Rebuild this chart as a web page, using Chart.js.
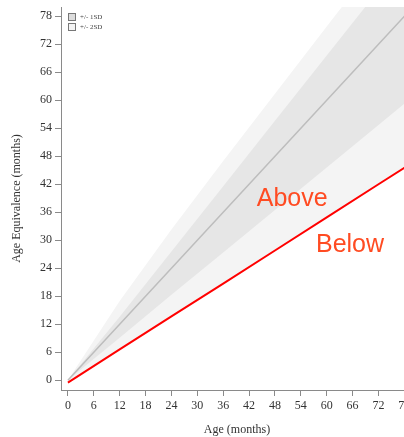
<!DOCTYPE html>
<html>
<head>
<meta charset="utf-8">
<script src="https://cdn.jsdelivr.net/npm/chart.js@4/dist/chart.umd.min.js"></script>
<style>
  html, body { margin: 0; padding: 0; background: #fff; overflow: hidden; }
  #wrap { width: 420px; height: 437px; }
</style>
</head>
<body>
<div id="wrap"><canvas id="aeChart" width="420" height="437"></canvas></div>
<script>
// ages (months) where the band edges are read
const ages = [0, 12, 24, 36, 48, 60, 72, 80];
const meanAE = [0, 12, 24, 36, 48, 60, 72, 80];
const plus1SD = [0, 13.6, 27.6, 41.6, 55.6, 69.6, 83.6, 93];
const minus1SD = [0, 9.1, 18.3, 27.4, 36.5, 45.6, 54.7, 60.8];
const plus2SD = [0, 17, 32.3, 47, 61.4, 75.8, 90.2, 100];
const minus2SD = [-0.5, 6.6, 13.7, 20.7, 27.8, 34.9, 42, 46.7];
const tickValues = [0, 6, 12, 18, 24, 30, 36, 42, 48, 54, 60, 66, 72, 78];

const pts = vals => ages.map((a, i) => ({x: a, y: vals[i]}));

const serif = "'Liberation Serif', 'DejaVu Serif', serif";
const axisGray = "#8a8a8a";

const overlayPlugin = {
    id: "overlay",
    afterDraw(chart) {
        const ctx = chart.ctx;
        const xs = chart.scales.x, ys = chart.scales.y;
        ctx.save();
        // legend
        const items = [["+/- 1SD", "#dcdcdc"], ["+/- 2SD", "#f4f4f4"]];
        items.forEach((it, i) => {
            const y = 13 + i * 10;
            ctx.fillStyle = it[1];
            ctx.fillRect(68.5, y + 0.5, 7, 7);
            ctx.strokeStyle = "#777";
            ctx.lineWidth = 1;
            ctx.strokeRect(68.5, y + 0.5, 7, 7);
            ctx.fillStyle = "#444";
            ctx.font = "7px " + serif;
            ctx.textBaseline = "middle";
            ctx.textAlign = "left";
            ctx.fillText(it[0], 80, y + 4.5);
        });
        // above / below labels
        ctx.fillStyle = "#ff4b22";
        ctx.font = "25px 'Liberation Sans', Arial, sans-serif";
        ctx.textAlign = "center";
        ctx.textBaseline = "middle";
        ctx.fillText("Above", xs.getPixelForValue(52), ys.getPixelForValue(38.9));
        ctx.fillText("Below", xs.getPixelForValue(65.4), ys.getPixelForValue(29));
        ctx.restore();
    }
};

new Chart(document.getElementById("aeChart").getContext("2d"), {
    type: "line",
    data: {
        datasets: [{
            label: "+2SD",
            data: pts(plus2SD),
            borderWidth: 0,
            pointRadius: 0,
            backgroundColor: "#f4f4f4",
            fill: 3,
            order: 4
        }, {
            label: "+1SD",
            data: pts(plus1SD),
            borderWidth: 0,
            pointRadius: 0,
            backgroundColor: "#e6e6e6",
            fill: 2,
            order: 3
        }, {
            label: "-1SD",
            data: pts(minus1SD),
            borderWidth: 0,
            pointRadius: 0,
            fill: false,
            order: 5
        }, {
            label: "-2SD",
            data: pts(minus2SD),
            borderColor: "#ff0000",
            borderWidth: 2,
            pointRadius: 0,
            fill: false,
            order: 0
        }, {
            label: "Mean",
            data: pts(meanAE),
            borderColor: "#bdbdbd",
            borderWidth: 1.5,
            pointRadius: 0,
            fill: false,
            order: 1
        }]
    },
    options: {
        responsive: false,
        animation: false,
        layout: { padding: { top: 7, right: 7, left: 10, bottom: 0 } },
        plugins: { legend: { display: false }, tooltip: { enabled: false } },
        scales: {
            x: {
                type: "linear",
                min: -1.6,
                max: 80,
                afterBuildTicks: s => { s.ticks = tickValues.map(v => ({value: v})); },
                afterFit: s => { s.height = 47; s.paddingLeft = 0; s.paddingRight = 0; },
                grid: { drawOnChartArea: false, drawTicks: true, tickLength: 6, color: axisGray },
                border: { color: axisGray, width: 1 },
                ticks: { color: "#333", font: { family: serif, size: 12 }, padding: 3, maxRotation: 0 },
                title: { display: true, text: "Age (months)", color: "#333", font: { family: serif, size: 12 }, padding: { top: 4, bottom: 0 } }
            },
            y: {
                min: -2.1,
                max: 80,
                afterBuildTicks: s => { s.ticks = tickValues.map(v => ({value: v})); },
                afterFit: s => { s.width = 51; s.paddingTop = 0; s.paddingBottom = 0; },
                grid: { drawOnChartArea: false, drawTicks: true, tickLength: 6, color: axisGray },
                border: { color: axisGray, width: 1 },
                ticks: { color: "#333", font: { family: serif, size: 12 }, padding: 3 },
                title: { display: true, text: "Age Equivalence (months)", color: "#333", font: { family: serif, size: 12 }, padding: { top: 0, bottom: 4 } }
            }
        }
    },
    plugins: [overlayPlugin]
});
</script>
</body>
</html>
